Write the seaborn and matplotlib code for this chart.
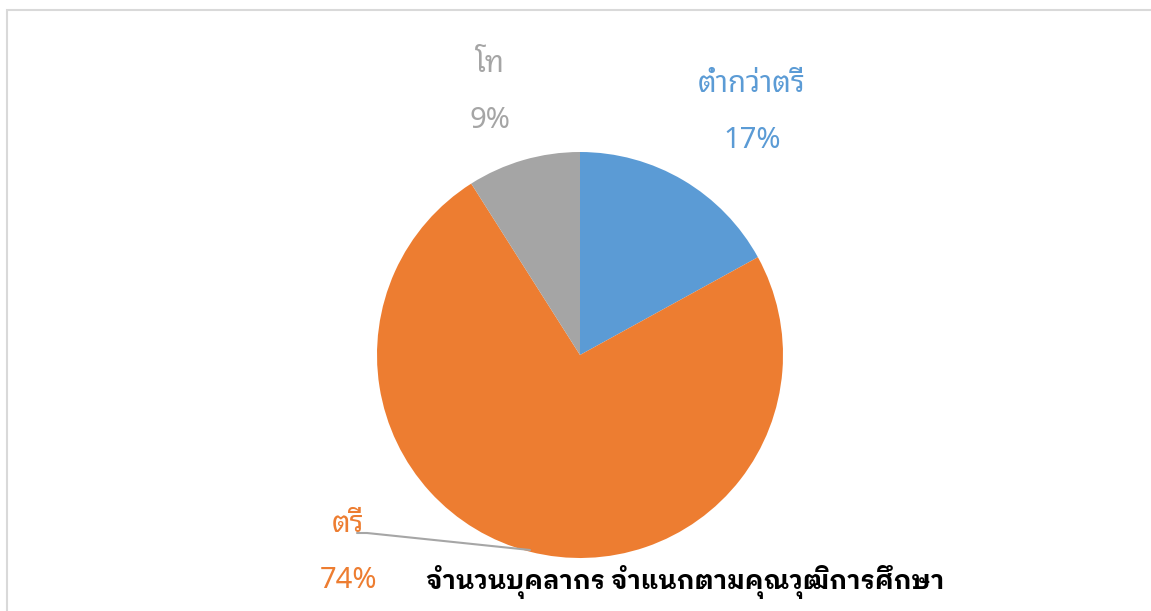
import matplotlib
matplotlib.use("Agg")
import matplotlib.pyplot as plt
from matplotlib import font_manager
from matplotlib.patches import Rectangle
import seaborn as sns

# ---- data ----
categories = ["ต่ำกว่าตรี", "ตรี", "โท"]
values = [17, 74, 9]
pct_labels = ["17%", "74%", "9%"]
colors = ["#5B9BD5", "#ED7D31", "#A5A5A5"]
title = "จำนวนบุคลากร จำแนกตามคุณวุฒิการศึกษา"

sns.set_theme(style="white")

installed = {f.name for f in font_manager.fontManager.ttflist}
def pick(prefs):
    return [p for p in prefs if p in installed] + ["Noto Sans", "DejaVu Sans"]

label_family = pick(["Noto Sans Thai Looped", "IBM Plex Sans Thai Looped", "Noto Sans Thai"])
title_family = pick(["IBM Plex Sans Thai Looped", "Sarabun", "Noto Sans Thai Looped"])
plt.rcParams["font.family"] = label_family

W, H = 1151, 611
fig = plt.figure(figsize=(W / 100, H / 100), dpi=100)
ax = fig.add_axes([0, 0, 1, 1])

cx, cy, r = 580, 355, 203
ax.pie(values, colors=colors, startangle=90, counterclock=False,
       radius=1, center=(0, 0), wedgeprops=dict(linewidth=0))
ax.set_aspect("auto")
ax.set_xlim(-cx / r, (W - cx) / r)
ax.set_ylim(-(H - cy) / r, cy / r)
ax.axis("off")

def px(x, y):
    return ((x - cx) / r, (cy - y) / r)

label_pos = [((752, 84), (752, 140)), ((348, 524), (348, 580)), ((490, 65), (490, 120))]
for cat, pct, col, (p1, p2) in zip(categories, pct_labels, colors, label_pos):
    ax.text(*px(*p1), cat, color=col, fontsize=21, ha="center", va="center",
            family=label_family)
    ax.text(*px(*p2), pct, color=col, fontsize=21, ha="center", va="center",
            family=label_family)

lx = [px(357, 533)[0], px(367, 533)[0], px(530, 550)[0]]
ly = [px(357, 533)[1], px(367, 533)[1], px(530, 550)[1]]
ax.plot(lx, ly, color="#A6A6A6", lw=1.5)

ax.text(*px(685, 582), title, fontsize=18.4, fontweight="bold", color="black",
        ha="center", va="center", family=title_family)

fig.patches.append(Rectangle((7 / W, -0.1), 1.2, (H - 10) / H + 0.1,
                             transform=fig.transFigure, fill=False,
                             edgecolor="#D9D9D9", lw=1.5))

fig.savefig("out.png", dpi=100)
